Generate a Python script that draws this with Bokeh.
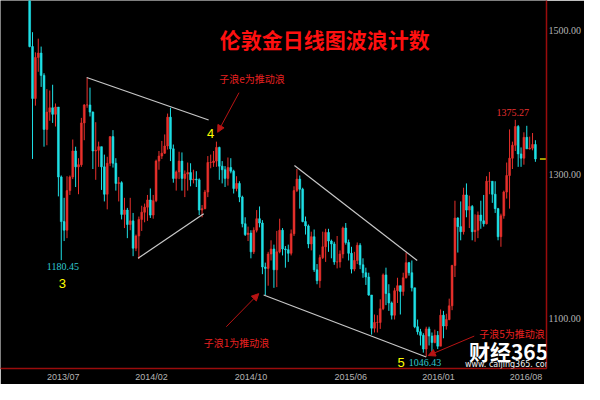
import numpy as np
import pandas as pd
from bokeh.plotting import figure
from bokeh.models import (ColumnDataSource, Range1d, FixedTicker, NumeralTickFormatter,
                          DatetimeTickFormatter, Arrow, NormalHead, Label)
from bokeh.embed import file_html
from bokeh.resources import INLINE

# ---------------- data (weekly candles) ----------------
first_week = "2013-04-10"
first_open = 1575.0

highs = [
    1587, 1497, 1469, 1488, 1477, 1440, 1418, 1416, 1424, 1398, 1393, 1298,
    1267, 1297, 1298, 1348, 1338, 1322, 1378, 1397, 1434, 1420, 1387, 1372, 1345, 1338,
    1327, 1324, 1352, 1361, 1322, 1296, 1290, 1267, 1253, 1267, 1246, 1216, 1241,
    # 2014
    1256, 1259, 1271, 1280, 1271, 1320, 1332, 1346, 1355, 1384, 1392, 1341, 1305,
    1331, 1330, 1305, 1316, 1315, 1306, 1304, 1294, 1257, 1278, 1325, 1327, 1332,
    1345, 1338, 1318, 1311, 1323, 1322, 1306, 1297, 1290, 1270, 1240, 1227, 1222,
    1226, 1250, 1255, 1236, 1177, 1192, 1208, 1202, 1221, 1238, 1225, 1200, 1202,
    # 2015
    1223, 1283, 1307, 1298, 1281, 1241, 1230, 1220, 1223, 1175, 1188, 1220, 1224,
    1224, 1209, 1206, 1214, 1194, 1227, 1232, 1209, 1199, 1192, 1205, 1204, 1183,
    1170, 1163, 1132, 1105, 1104, 1126, 1162, 1170, 1147, 1123, 1142, 1156, 1145,
    1163, 1191, 1178, 1180, 1142, 1098, 1085, 1079, 1088, 1088, 1080, 1084, 1082,
    # 2016
    1112, 1110, 1106, 1127, 1174, 1263, 1240, 1262, 1281, 1287, 1270, 1257, 1244,
    1248, 1263, 1271, 1297, 1303, 1290, 1290, 1253, 1245, 1277, 1316, 1362, 1345,
    1375.27, 1368, 1337, 1358, 1367, 1352, 1357, 1347,
]
lows = [
    1476, 1321, 1395, 1442, 1421, 1338, 1340, 1374, 1371, 1366, 1269, 1180.45,
    1207, 1211, 1271, 1293, 1282, 1272, 1310, 1347, 1392, 1380, 1307, 1292, 1310, 1278,
    1262, 1251, 1311, 1309, 1277, 1262, 1237, 1225, 1211, 1222, 1186, 1193, 1182,
    # 2014
    1221, 1233, 1235, 1239, 1238, 1261, 1306, 1321, 1328, 1334, 1318, 1288, 1277,
    1293, 1277, 1268, 1277, 1283, 1287, 1282, 1243, 1240, 1251, 1268, 1308, 1310,
    1310, 1292, 1287, 1282, 1284, 1301, 1273, 1276, 1261, 1226, 1214, 1207, 1183,
    1189, 1219, 1226, 1161, 1132, 1145, 1180, 1142, 1143, 1190, 1187, 1170, 1178,
    # 2015
    1187, 1214, 1275, 1252, 1233, 1216, 1197, 1194, 1164, 1147, 1142, 1182, 1178,
    1192, 1183, 1174, 1169, 1170, 1183, 1202, 1180, 1162, 1165, 1175, 1168, 1156,
    1146, 1131, 1077, 1080, 1080, 1085, 1111, 1118, 1110, 1098, 1098, 1121, 1105,
    1131, 1155, 1159, 1137, 1086, 1077, 1062, 1052, 1046.43, 1062, 1050, 1065, 1057,
    # 2016
    1061, 1072, 1084, 1097, 1111, 1157, 1191, 1208, 1216, 1240, 1225, 1208, 1206,
    1211, 1224, 1227, 1230, 1272, 1260, 1246, 1208, 1199, 1238, 1266, 1252, 1307,
    1332, 1310, 1310, 1313, 1335, 1334, 1333, 1317,
]
closes = [
    1477, 1405, 1462, 1468, 1437, 1362, 1386, 1392, 1383, 1393, 1296, 1234,
    1222, 1277, 1296, 1332, 1310, 1313, 1371, 1396, 1396, 1386, 1332, 1333, 1338, 1310,
    1272, 1315, 1352, 1315, 1287, 1288, 1244, 1250, 1230, 1235, 1197, 1214, 1237,
    # 2014
    1247, 1254, 1264, 1243, 1263, 1318, 1325, 1329, 1339, 1379, 1335, 1294, 1303,
    1318, 1294, 1300, 1302, 1292, 1293, 1292, 1250, 1252, 1275, 1316, 1316, 1318,
    1337, 1311, 1306, 1294, 1309, 1304, 1280, 1287, 1268, 1231, 1216, 1218, 1192,
    1222, 1238, 1232, 1171, 1169, 1189, 1196, 1167, 1192, 1222, 1196, 1195, 1190,
    # 2015
    1217, 1277, 1293, 1279, 1234, 1228, 1203, 1213, 1167, 1152, 1184, 1199, 1219,
    1207, 1203, 1178, 1178, 1189, 1225, 1205, 1190, 1168, 1180, 1201, 1174, 1163,
    1157, 1132, 1086, 1094, 1094, 1113, 1160, 1134, 1121, 1104, 1138, 1145, 1137,
    1156, 1177, 1163, 1142, 1088, 1081, 1076, 1057, 1085, 1075, 1066, 1076, 1061,
    # 2016
    1104, 1089, 1098, 1117, 1173, 1239, 1227, 1220, 1271, 1250, 1255, 1220, 1222,
    1243, 1235, 1231, 1290, 1290, 1272, 1252, 1213, 1242, 1275, 1298, 1322, 1340,
    1366, 1328, 1322, 1351, 1335, 1336, 1341, 1321,
]

price_ticks = [1100, 1300, 1500]
date_tick_labels = ["2013/07", "2014/02", "2014/10", "2015/06", "2016/01", "2016/08"]

title_text = "伦敦金日线图波浪计数"
note_e = "子浪e为推动浪"
note_1 = "子浪1为推动浪"
note_5 = "子浪5为推动浪"
low_1_text = "1180.45"
low_2_text = "1046.43"
high_text = "1375.27"

# wave (trend) lines: start/end date and price
line_start_dates = ["2013-08-27", "2013-12-30", "2015-01-15", "2014-11-01"]
line_start_prices = [1434, 1183, 1312, 1132]
line_end_dates = ["2014-06-20", "2014-06-08", "2015-11-10", "2015-12-02"]
line_end_prices = [1375, 1245, 1180, 1046]

# ---------------- derived ----------------
def ms(s):
    return pd.Timestamp(s).value / 1e6

dates = pd.date_range(first_week, periods=len(closes), freq="7D")
opens = [first_open] + closes[:-1]
o = np.array(opens, dtype=float)
c = np.array(closes, dtype=float)
UP = "#e8302c"
DOWN = "#1ee0e6"
colors = np.where(c >= o, UP, DOWN)

src = ColumnDataSource(dict(
    x=dates, h=highs, l=lows,
    top=np.maximum(o, c), bottom=np.minimum(o, c), color=colors,
))

p = figure(width=584, height=384, x_axis_type="datetime", y_axis_location="right",
           x_range=Range1d(ms("2013-01-29"), ms("2016-09-20")),
           y_range=Range1d(1030, 1541),
           output_backend="svg", toolbar_location=None,
           background_fill_color="black", border_fill_color="black",
           outline_line_color=None,
           min_border_left=0, min_border_top=0, min_border_bottom=0, min_border_right=0)
p.grid.visible = False

# axes
AXIS_RED = "#9a0c0c"
p.yaxis.ticker = FixedTicker(ticks=price_ticks)
p.yaxis.formatter = NumeralTickFormatter(format="0.00")
p.xaxis.ticker = FixedTicker(ticks=[ms(s.replace("/", "-") + "-01") for s in date_tick_labels])
fmt = "%Y/%m"
p.xaxis.formatter = DatetimeTickFormatter(days=fmt, months=fmt, years=fmt)
for ax in (p.xaxis, p.yaxis):
    ax.axis_label = None
    ax.axis_line_color = AXIS_RED
    ax.axis_line_width = 1.5
    ax.major_tick_line_color = None
    ax.minor_tick_line_color = None
    ax.major_tick_out = 0
    ax.major_tick_in = 0
    ax.minor_tick_out = 0
    ax.minor_tick_in = 0
    ax.major_label_text_color = "#b4b4b4"
    ax.major_label_text_font_size = "10px"
p.yaxis.major_label_text_font = "Liberation Sans Narrow"
p.xaxis.major_label_text_font = "Liberation Sans"
p.xaxis.major_label_text_font_size = "9px"
p.yaxis.major_label_standoff = 2
p.xaxis.major_label_standoff = 3

# candles
p.segment(x0="x", y0="h", x1="x", y1="l", color="color", line_width=1, source=src)
p.vbar(x="x", width=4.5 * 86400000, top="top", bottom="bottom",
       fill_color="color", line_color="color", line_width=0.6, source=src)

# trend lines
p.segment(x0=[ms(d) for d in line_start_dates], y0=line_start_prices,
          x1=[ms(d) for d in line_end_dates], y1=line_end_prices,
          line_color="#c8c8c8", line_width=1.2)

# current price marker
p.segment(x0=[ms("2016-09-04")], x1=[ms("2016-09-20")], y0=[closes[-1]], y1=[closes[-1]],
          line_color="#d8d000", line_width=1.5)

# arrows
ARROW = "#b81414"
for (xs, ys, xe, ye) in [("2014-09-02", 1413, "2014-07-12", 1358),
                         ("2014-08-02", 1088, "2014-10-20", 1134),
                         ("2016-03-28", 1075, "2015-12-07", 1048)]:
    p.add_layout(Arrow(end=NormalHead(size=7, fill_color=ARROW, line_color=ARROW),
                       x_start=ms(xs), y_start=ys, x_end=ms(xe), y_end=ye,
                       line_color=ARROW, line_width=1))

def add_label(x, y, text, color, size, font="Noto Sans CJK SC", align="center", style="normal"):
    p.add_layout(Label(x=ms(x), y=y, text=text, text_color=color, text_font=font,
                       text_font_size=size, text_align=align, text_baseline="middle",
                       text_font_style=style))

add_label("2015-03-30", 1487, title_text, "#ff1010", "21px", style="bold")
add_label("2014-07-16", 1433, note_e, "#e82020", "10px", align="left")
add_label("2014-06-08", 1066, note_1, "#e82020", "10px", align="left")
add_label("2016-04-09", 1078, note_5, "#e82020", "10px", align="left")
add_label("2014-06-25", 1356, "4", "#ffff00", "13px", font="Liberation Sans")
add_label("2013-06-29", 1148, "3", "#ffff00", "13px", font="Liberation Sans")
add_label("2015-10-02", 1039, "5", "#ffff00", "13px", font="Liberation Sans")
add_label("2013-06-30", 1171, low_1_text, "#30c8d0", "10px", font="Liberation Sans Narrow")
add_label("2015-11-29", 1038, low_2_text, "#30c8d0", "10px", font="Liberation Sans Narrow")
add_label("2016-06-30", 1386, high_text, "#e83030", "10px", font="Liberation Sans Narrow")
# watermark
add_label("2016-03-15", 1054, "财经365", "#ffffff", "21px", align="left", style="bold")
add_label("2016-06-20", 1035, "www. caijing365. com", "#f0f0f0", "8px", font="DejaVu Sans")

open("out.html", "w").write(file_html(p, INLINE))
